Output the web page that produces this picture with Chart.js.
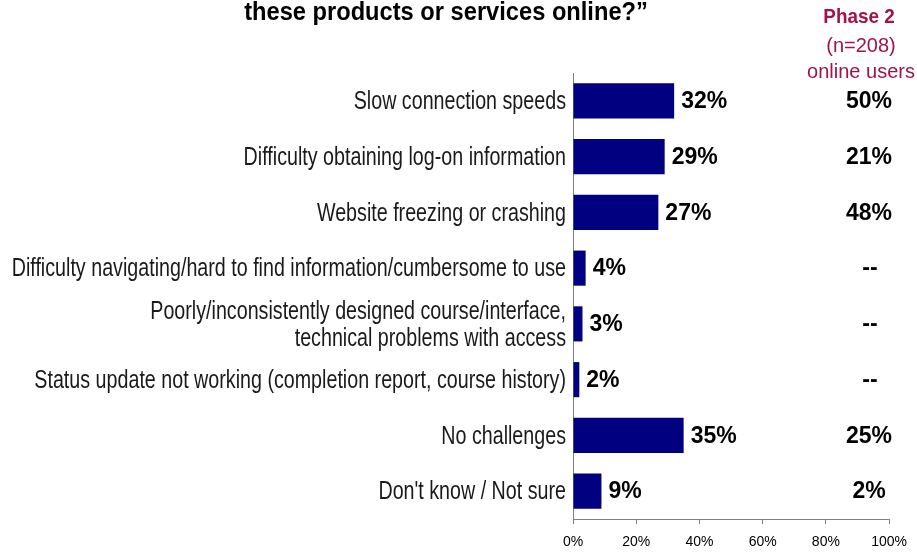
<!DOCTYPE html>
<html>
<head>
<meta charset="utf-8">
<title>Online challenges</title>
<script src="https://cdn.jsdelivr.net/npm/chart.js@4/dist/chart.umd.min.js"></script>
<style>
  html, body { margin: 0; padding: 0; background: #fff; }
</style>
</head>
<body>
<canvas id="chartCanvas" width="917" height="552"></canvas>
<script>
var categories = [
    'Slow connection speeds',
    'Difficulty obtaining log-on information',
    'Website freezing or crashing',
    'Difficulty navigating/hard to find information/cumbersome to use',
    ['Poorly/inconsistently designed course/interface,', 'technical problems with access'],
    'Status update not working (completion report, course history)',
    'No challenges',
    "Don't know / Not sure"
];
var currentPct = [32, 29, 27, 4, 3, 2, 35, 9];
// phase 2 column, null = not asked ("--")
var phase2Pct = [50, 21, 48, null, null, null, 25, 2];
var xTicks = [0, 20, 40, 60, 80, 100];

var ARIAL = '"Liberation Sans", Arial, sans-serif';
var RED = '#a3124a';

// the deck uses a condensed Arial; squeeze text horizontally
function squeezed(ctx, text, x, y, sx) {
    ctx.save();
    ctx.translate(x, y);
    ctx.scale(sx, 1);
    ctx.fillText(text, 0, 0);
    ctx.restore();
}

var textPlugin = {
    id: 'textPlugin',
    afterDraw: function (chart) {
        var ctx = chart.ctx;
        var meta = chart.getDatasetMeta(0);
        var yScale = chart.scales.y;
        ctx.save();

        // question title (second line only)
        ctx.fillStyle = '#000';
        ctx.textAlign = 'center';
        ctx.textBaseline = 'alphabetic';
        ctx.font = 'bold 26px ' + ARIAL;
        squeezed(ctx, 'these products or services online?\u201d', 446, 20, 0.91);

        // phase 2 header
        ctx.fillStyle = RED;
        ctx.font = 'bold 21px ' + ARIAL;
        squeezed(ctx, 'Phase 2', 859, 23, 0.9);
        ctx.font = '20px ' + ARIAL;
        ctx.fillText('(n=208)', 861, 52);
        ctx.fillText('online users', 861, 78);

        // category labels
        ctx.fillStyle = '#1a1a1a';
        ctx.textAlign = 'right';
        ctx.textBaseline = 'middle';
        ctx.font = '26px ' + ARIAL;
        var right = chart.chartArea.left - 7;
        categories.forEach(function (lab, i) {
            var yc = yScale.getPixelForValue(i);
            var lines = Array.isArray(lab) ? lab : [lab];
            lines.forEach(function (ln, k) {
                var y = yc + (k - (lines.length - 1) / 2) * 27;
                squeezed(ctx, ln, right, y + 1, 0.757);
            });
        });

        // values next to bars + phase 2 column
        ctx.fillStyle = '#000';
        ctx.font = 'bold 23px ' + ARIAL;
        meta.data.forEach(function (bar, i) {
            ctx.textAlign = 'left';
            ctx.fillText(currentPct[i] + '%', bar.x + 7, bar.y + 1);
            ctx.textAlign = 'center';
            var p = phase2Pct[i];
            ctx.fillText(p === null ? '--' : p + '%', p === null ? 870 : 869, bar.y + 1);
        });
        ctx.restore();
    }
};

var chart = new Chart(document.getElementById('chartCanvas'), {
    type: 'bar',
    data: {
        labels: categories,
        datasets: [{
            data: currentPct,
            backgroundColor: '#000080',
            borderWidth: 0,
            barPercentage: 0.63,
            categoryPercentage: 1
        }]
    },
    options: {
        indexAxis: 'y',
        responsive: false,
        animation: false,
        devicePixelRatio: 1,
        layout: {
            padding: { top: 73, right: 27, bottom: 0, left: 0 }
        },
        plugins: {
            legend: { display: false },
            tooltip: { enabled: false }
        },
        scales: {
            x: {
                min: 0,
                max: 100,
                afterBuildTicks: function (scale) {
                    scale.ticks = xTicks.map(function (v) { return { value: v }; });
                },
                afterFit: function (scale) { scale.height = 33; },
                grid: { drawOnChartArea: false, tickLength: 5, color: '#808080' },
                border: { color: '#808080', width: 1 },
                ticks: {
                    padding: 10,
                    color: '#000',
                    maxRotation: 0,
                    font: { family: ARIAL, size: 14 },
                    callback: function (v) { return v + '%'; }
                }
            },
            y: {
                afterFit: function (scale) { scale.width = 573; },
                grid: { drawOnChartArea: false, drawTicks: false },
                border: { color: '#808080', width: 1 },
                ticks: { display: false, autoSkip: false }
            }
        }
    },
    plugins: [textPlugin]
});
</script>
</body>
</html>
